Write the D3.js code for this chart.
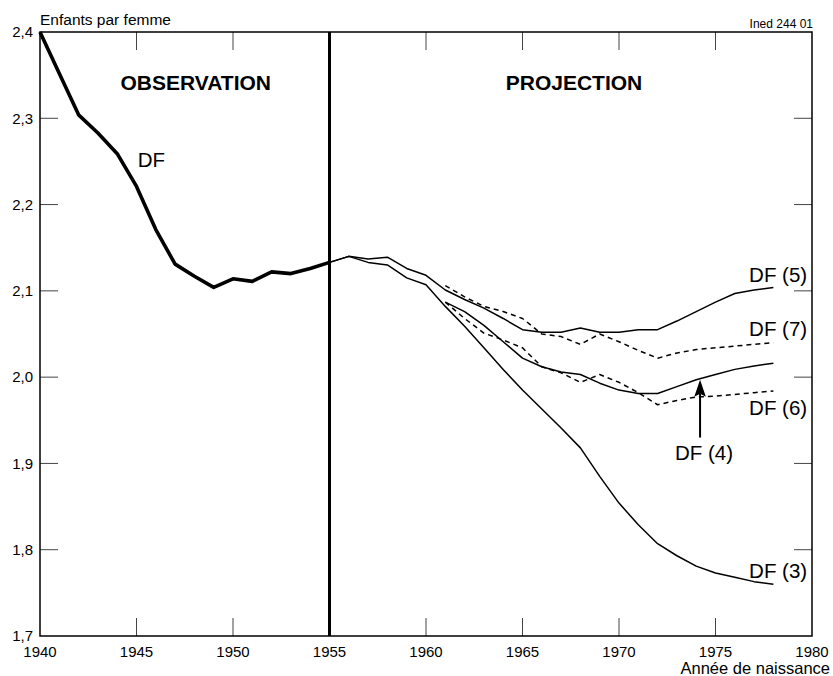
<!DOCTYPE html>
<html>
<head>
<meta charset="utf-8">
<script src="https://cdn.jsdelivr.net/npm/d3@7"></script>
<style>
  html, body { margin: 0; padding: 0; background: #fff; }
  svg { display: block; font-family: "Liberation Sans", Arial, Helvetica, sans-serif; }
</style>
</head>
<body>
<svg id="chart" width="833" height="676"></svg>
<script>
// Descendance finale (enfants par femme) par année de naissance
const obsYears = [1940, 1941, 1942, 1943, 1944, 1945, 1946, 1947, 1948, 1949, 1950, 1951, 1952, 1953, 1954, 1955];
const obsValues = [2.400, 2.352, 2.304, 2.283, 2.259, 2.221, 2.171, 2.131, 2.117, 2.104, 2.114, 2.111, 2.122, 2.120, 2.126, 2.133];

const projYearsLong = [1955, 1956, 1957, 1958, 1959, 1960, 1961, 1962, 1963, 1964, 1965, 1966,
                       1967, 1968, 1969, 1970, 1971, 1972, 1973, 1974, 1975, 1976, 1977, 1978];
const projYearsShort = [1961, 1962, 1963, 1964, 1965, 1966, 1967, 1968, 1969,
                        1970, 1971, 1972, 1973, 1974, 1975, 1976, 1977, 1978];

const df3 = [2.133, 2.140, 2.133, 2.130, 2.115, 2.107, 2.082, 2.059, 2.034, 2.009, 1.985, 1.963,
             1.941, 1.918, 1.885, 1.854, 1.829, 1.807, 1.793, 1.781, 1.773, 1.768, 1.763, 1.760];
const df5 = [2.133, 2.140, 2.137, 2.139, 2.126, 2.118, 2.101, 2.090, 2.080, 2.068, 2.055, 2.052,
             2.052, 2.057, 2.052, 2.052, 2.055, 2.055, 2.065, 2.076, 2.087, 2.097, 2.101, 2.104];
const df4 = [2.087, 2.076, 2.060, 2.041, 2.022, 2.012, 2.006, 2.003, 1.993,
             1.985, 1.981, 1.981, 1.989, 1.997, 2.003, 2.009, 2.013, 2.016];
const df6 = [2.087, 2.068, 2.051, 2.043, 2.034, 2.012, 2.005, 1.994, 2.003,
             1.994, 1.982, 1.968, 1.973, 1.977, 1.978, 1.980, 1.982, 1.984];
const df7 = [2.106, 2.093, 2.082, 2.076, 2.068, 2.050, 2.047, 2.038, 2.050,
             2.041, 2.031, 2.022, 2.028, 2.032, 2.034, 2.036, 2.038, 2.040];

const xTicks = [1940, 1945, 1950, 1955, 1960, 1965, 1970, 1975, 1980];
const yTicks = [1.7, 1.8, 1.9, 2.0, 2.1, 2.2, 2.3, 2.4];
const splitYear = 1955;

const svg = d3.select("#chart");
const plotLeft = 40, plotRight = 812, plotTop = 32, plotBottom = 636;

const x = d3.scaleLinear().domain([1940, 1980]).range([plotLeft, plotRight]);
const y = d3.scaleLinear().domain([1.7, 2.4]).range([plotBottom, plotTop]);
const fmt = v => d3.format(".1f")(v).replace(".", ",");

// Ticks drawn inward on all four sides
const tickLen = 18;
const tickG = svg.append("g").attr("stroke", "#444").attr("stroke-width", 1);
yTicks.filter(v => v > 1.7 && v < 2.4).forEach(v => {
  tickG.append("line").attr("x1", plotLeft).attr("x2", plotLeft + tickLen).attr("y1", y(v)).attr("y2", y(v));
  tickG.append("line").attr("x1", plotRight).attr("x2", plotRight - tickLen).attr("y1", y(v)).attr("y2", y(v));
});
xTicks.filter(t => t > 1940 && t < 1980 && t !== splitYear).forEach(t => {
  tickG.append("line").attr("x1", x(t)).attr("x2", x(t)).attr("y1", plotBottom).attr("y2", plotBottom - tickLen);
  tickG.append("line").attr("x1", x(t)).attr("x2", x(t)).attr("y1", plotTop).attr("y2", plotTop + tickLen);
});

// Frame
svg.append("rect")
  .attr("x", plotLeft).attr("y", plotTop)
  .attr("width", plotRight - plotLeft).attr("height", plotBottom - plotTop)
  .attr("fill", "none").attr("stroke", "#000").attr("stroke-width", 1.5);

// Tick labels
svg.append("g").selectAll("text").data(yTicks).join("text")
  .attr("x", plotLeft - 7).attr("y", d => y(d)).attr("dy", "0.35em")
  .attr("text-anchor", "end").attr("font-size", 15).text(fmt);
svg.append("g").selectAll("text").data(xTicks).join("text")
  .attr("x", d => x(d)).attr("y", plotBottom + 21)
  .attr("text-anchor", "middle").attr("font-size", 15).text(d => d);

// Axis titles and source
svg.append("text").attr("x", plotLeft).attr("y", 25).attr("font-size", 15.5).text("Enfants par femme");
svg.append("text").attr("x", 830).attr("y", 674).attr("text-anchor", "end").attr("font-size", 16.5).text("Année de naissance");
svg.append("text").attr("x", 813).attr("y", 28).attr("text-anchor", "end").attr("font-size", 12).text("Ined 244 01");

// Observation / projection divide
svg.append("line")
  .attr("x1", x(splitYear)).attr("x2", x(splitYear)).attr("y1", plotTop).attr("y2", plotBottom)
  .attr("stroke", "#000").attr("stroke-width", 3);

svg.append("text").attr("x", x(1948.07)).attr("y", y(2.333)).attr("text-anchor", "middle")
  .attr("font-size", 21).attr("font-weight", "bold").text("OBSERVATION");
svg.append("text").attr("x", x(1967.67)).attr("y", y(2.333)).attr("text-anchor", "middle")
  .attr("font-size", 21).attr("font-weight", "bold").text("PROJECTION");

const line = d3.line().x(d => x(d[0])).y(d => y(d[1]));
const zip = (ys, vs) => ys.map((yr, i) => [yr, vs[i]]);

// Observed series
svg.append("path").datum(zip(obsYears, obsValues)).attr("d", line)
  .attr("fill", "none").attr("stroke", "#000").attr("stroke-width", 3.6)
  .attr("stroke-linejoin", "round");

// Projected series
const series = [
  { years: projYearsLong, values: df5, dash: null },
  { years: projYearsLong, values: df3, dash: null },
  { years: projYearsShort, values: df4, dash: null },
  { years: projYearsShort, values: df7, dash: "5,4" },
  { years: projYearsShort, values: df6, dash: "5,4" }
];
series.forEach(s => {
  svg.append("path").datum(zip(s.years, s.values)).attr("d", line)
    .attr("fill", "none").attr("stroke", "#000").attr("stroke-width", 1.5)
    .attr("stroke-dasharray", s.dash).attr("stroke-linejoin", "round");
});

// Series labels
const labels = [
  { text: "DF", year: 1945.06, value: 2.244, anchor: "start" },
  { text: "DF (5)", year: 1979.75, value: 2.110, anchor: "end" },
  { text: "DF (7)", year: 1979.75, value: 2.048, anchor: "end" },
  { text: "DF (6)", year: 1979.75, value: 1.956, anchor: "end" },
  { text: "DF (3)", year: 1979.75, value: 1.767, anchor: "end" },
  { text: "DF (4)", year: 1972.9, value: 1.904, anchor: "start" }
];
svg.append("g").selectAll("text").data(labels).join("text")
  .attr("x", d => x(d.year)).attr("y", d => y(d.value))
  .attr("text-anchor", d => d.anchor).attr("font-size", 20.5).text(d => d.text);

// Arrow pointing at DF (4)
const arrowYear = 1974.2, arrowTail = 1.930;
const arrowTip = d3.scaleLinear().domain(projYearsShort).range(df4)(arrowYear);
const ax = x(arrowYear), tipY = y(arrowTip) + 1;
svg.append("line").attr("x1", ax).attr("x2", ax).attr("y1", y(arrowTail)).attr("y2", tipY + 14)
  .attr("stroke", "#000").attr("stroke-width", 2);
svg.append("path")
  .attr("d", `M${ax},${tipY} L${ax - 5.8},${tipY + 17} L${ax},${tipY + 14} L${ax + 5.8},${tipY + 17} Z`)
  .attr("fill", "#000");
</script>
</body>
</html>
